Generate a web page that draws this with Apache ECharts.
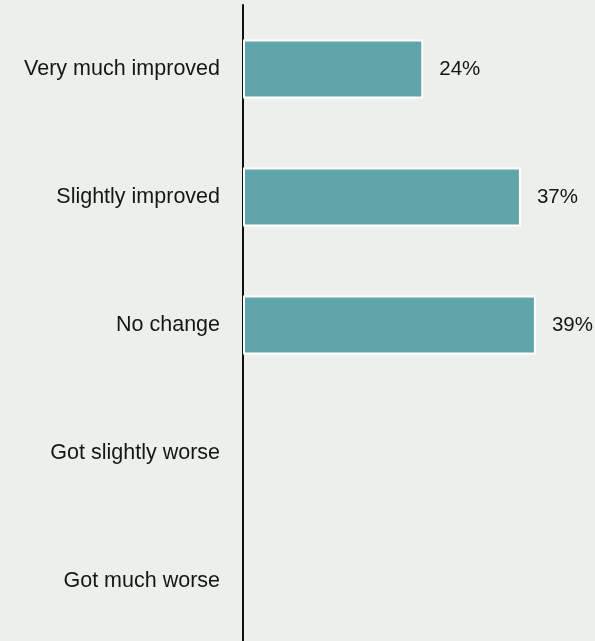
<!DOCTYPE html>
<html>
<head>
<meta charset="utf-8">
<script src="https://cdn.jsdelivr.net/npm/echarts@6/dist/echarts.min.js"></script>
<style>
  html, body { margin: 0; padding: 0; background: #ebf0eb; overflow: hidden; }
  #chart { width: 595px; height: 650px; }
</style>
</head>
<body>
<div id="chart"></div>
<script>
// Survey responses: how symptoms changed
const categories = ['Very much improved', 'Slightly improved', 'No change', 'Got slightly worse', 'Got much worse'];
const percentages = [24, 37, 39, null, null];

const chart = echarts.init(document.getElementById('chart'));
chart.setOption({
  backgroundColor: '#ebf0eb',
  animation: false,
  grid: { left: 243, width: 338, top: 5, height: 640, containLabel: false },
  xAxis: {
    type: 'value',
    min: 0,
    max: 45,
    show: false
  },
  yAxis: {
    type: 'category',
    data: categories,
    inverse: true,
    axisLine: { show: true, lineStyle: { color: '#111', width: 2 } },
    axisTick: { show: false },
    axisLabel: {
      margin: 23,
      color: '#161616',
      fontSize: 21.5,
      fontFamily: 'Liberation Sans, Arial, sans-serif'
    }
  },
  series: [{
    type: 'bar',
    data: percentages,
    barWidth: 59,
    itemStyle: { color: '#5fa5a9', borderColor: '#ffffff', borderWidth: 2 },
    label: {
      show: true,
      position: 'right',
      distance: 16,
      formatter: p => p.value + '%',
      color: '#161616',
      fontSize: 20.5,
      fontFamily: 'Liberation Sans, Arial, sans-serif'
    }
  }]
});
</script>
</body>
</html>
